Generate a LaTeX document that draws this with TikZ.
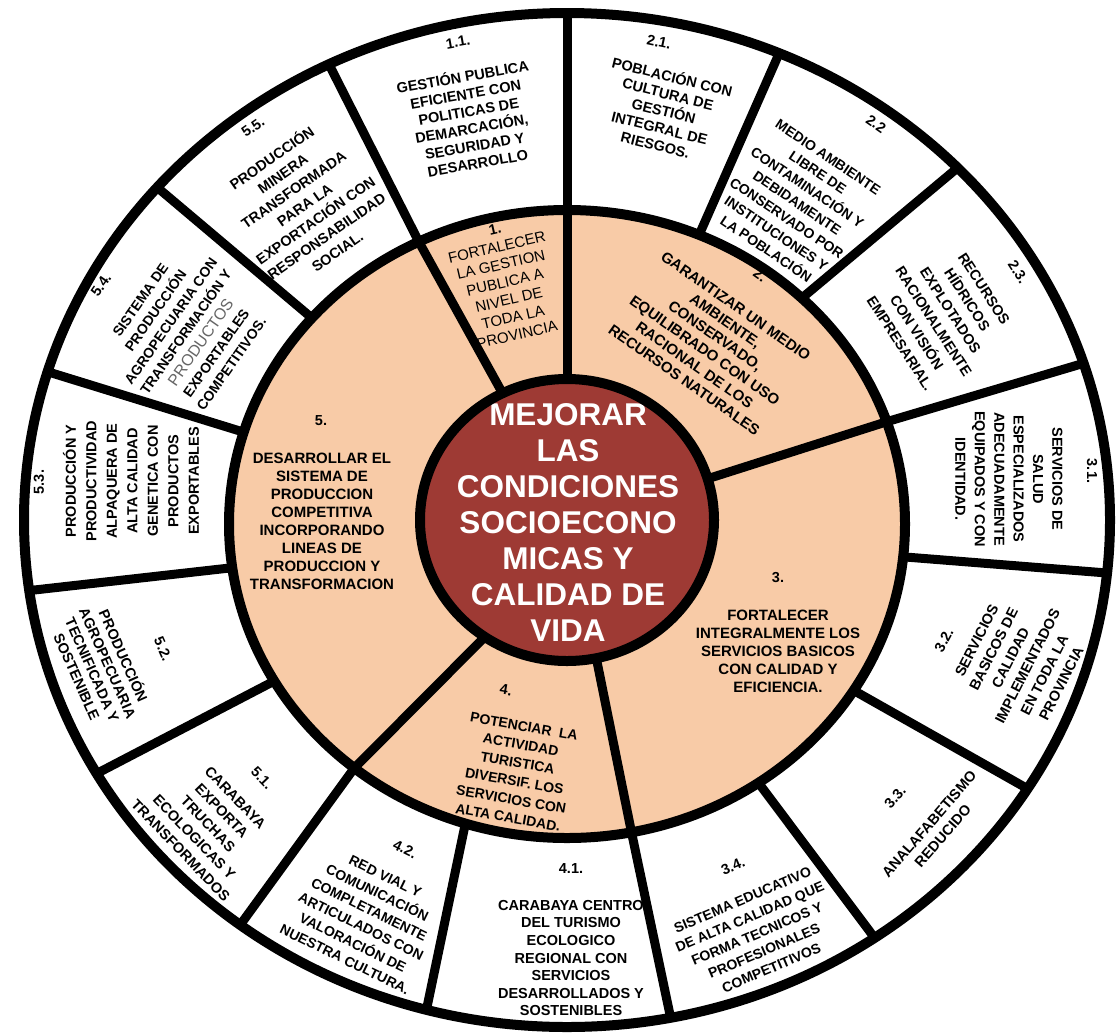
\documentclass[tikz,border=0pt]{standalone}
\usepackage{fontspec}
\setmainfont{Liberation Sans}
\definecolor{durazno}{RGB}{248,203,167}
\definecolor{granate}{RGB}{158,58,52}
\tikzset{
  anillo/.style={line width=10pt},
  rayo/.style={line width=9pt},
  sub/.style={font=\fontsize{14.5}{#1}\selectfont\bfseries, align=center, inner sep=0pt},
  sub/.default=18,
  num/.style={font=\fontsize{14.5}{18}\selectfont\bfseries, inner sep=0pt},
  eje/.style={font=\fontsize{15}{#1}\selectfont\bfseries, align=center, inner sep=0pt},
  eje/.default=18,
}

\begin{document}
\begin{tikzpicture}[x=1pt, y=-1pt]
\useasboundingbox (0,0) rectangle (1118,1034);
\fill[white] (0,0) rectangle (1118,1034);
\coordinate (C) at (567,520);
\coordinate (M) at (567,524);

% fondos
\fill[durazno] (M) ellipse [x radius=338pt, y radius=314pt];
\fill[granate] (C) ellipse [x radius=147pt, y radius=141pt];

% resultados (anillo exterior)
\node[num, rotate=10] (n11) at (458,42) {1.1.};
\node[sub=17.5, rotate=10] (r11) at (470,119) {GESTIÓN PUBLICA\\EFICIENTE CON\\POLITICAS DE\\DEMARCACIÓN,\\SEGURIDAD Y\\DESARROLLO};
\node[num, rotate=-12] (n21) at (659,42) {2.1.};
\node[sub=17.5, rotate=-14] (r21) at (664,110) {POBLACIÓN CON\\CULTURA DE\\GESTIÓN\\INTEGRAL DE\\RIESGOS.};
\node[num, rotate=-35] (n22) at (876,124) {2.2};
\node[sub=18.5, font=\fontsize{14}{18.5}\selectfont\bfseries, rotate=-34] (r22) at (797,203) {MEDIO AMBIENTE\\LIBRE DE\\CONTAMINACIÓN Y\\DEBIDAMENTE\\CONSERVADO POR\\INSTITUCIONES Y\\LA POBLACIÓN};
\node[num, rotate=-57] (n23) at (1018,272) {2.3.};
\node[sub=20, rotate=-57] (r23) at (942,316) {RECURSOS\\HÍDRICOS\\EXPLOTADOS\\RACIONALMENTE\\CON VISIÓN\\EMPRESARIAL.};
\node[num, rotate=-90] (n31) at (1092,471) {3.1.};
\node[sub=19.4, rotate=-90] (r31) at (1009,479) {SERVICIOS DE\\SALUD\\ESPECIALIZADOS\\ADECUADAMENTE\\EQUIPADOS Y CON\\IDENTIDAD.};
\node[num, rotate=62] (n32) at (944,640) {3.2.};
\node[sub=19, rotate=63] (r32) at (1019,662) {SERVICIOS\\BASICOS DE\\CALIDAD\\IMPLEMENTADOS\\EN TODA LA\\PROVINCIA};
\node[num, rotate=49] (n33) at (895,797) {3.3.};
\node[sub, rotate=49] (r33) at (936,830) {ANALAFABETISMO\\REDUCIDO};
\node[num, rotate=23] (n34) at (733,866) {3.4.};
\node[sub=18.5, font=\fontsize{14}{18.5}\selectfont\bfseries, rotate=23] (r34) at (757,934) {SISTEMA EDUCATIVO\\DE ALTA CALIDAD QUE\\FORMA TECNICOS Y\\PROFESIONALES\\COMPETITIVOS};
\node[num] (n41) at (571,868) {4.1.};
\node[sub=17.6] (r41) at (571,958) {CARABAYA CENTRO\\DEL TURISMO\\ECOLOGICO\\REGIONAL CON\\SERVICIOS\\DESARROLLADOS Y\\SOSTENIBLES};
\node[num, rotate=-26] (n42) at (405,849) {4.2.};
\node[sub=18.5, font=\fontsize{14}{18.5}\selectfont\bfseries, rotate=-26] (r42) at (365,918) {RED VIAL Y\\COMUNICACIÓN\\COMPLETAMENTE\\ARTICULADOS CON\\VALORACIÓN DE\\NUESTRA CULTURA.};
\node[num, rotate=-46] (n51) at (262,778) {5.1.};
\node[sub=19, rotate=-46] (r51) at (208,824) {CARABAYA\\EXPORTA\\TRUCHAS\\ECOLOGICAS Y\\TRANSFORMADOS};
\node[num, rotate=-66] (n52) at (163,649) {5.2.};
\node[sub=17, rotate=-66] (r52) at (101,666) {PRODUCCIÓN\\AGROPECUARIA\\TECNIFICADA Y\\SOSTENIBLE};
\node[num, rotate=90] (n53) at (39,482) {5.3.};
\node[sub=20.5, rotate=90] (r53) at (131,481) {PRODUCCIÓN Y\\PRODUCTIVIDAD\\ALPAQUERA DE\\ALTA CALIDAD\\GENETICA CON\\PRODUCTOS\\EXPORTABLES};
\node[num, rotate=55] (n54) at (101,285) {5.4.};
\node[sub=18.5, font=\fontsize{14}{18.5}\selectfont\bfseries, rotate=55] (r54) at (186,332) {SISTEMA DE\\PRODUCCIÓN\\AGROPECUARIA CON\\TRANSFORMACIÓN Y\\{\fontsize{16}{18.5}\selectfont\mdseries\color{black!60}PRODUCTOS}\\EXPORTABLES\\COMPETITIVOS.};
\node[num, rotate=35] (n55) at (253,127) {5.5.};
\node[sub=19, rotate=35] (r55) at (304,204) {PRODUCCIÓN\\MINERA\\TRANSFORMADA\\PARA LA\\EXPORTACIÓN CON\\RESPONSABILIDAD\\SOCIAL.};

% ejes (anillo medio)
\node[num, rotate=13] (n1) at (495,229) {1.};
\node[font=\fontsize{15}{18}\selectfont, align=center, inner sep=0pt, rotate=13] (e1) at (507,291) {FORTALECER\\LA GESTION\\PUBLICA A\\NIVEL DE\\TODA LA\\PROVINCIA};
\node[num, rotate=-35] (n2) at (760,275) {2.};
\node[eje, rotate=-35] (e2) at (710,343) {GARANTIZAR UN MEDIO\\AMBIENTE,\\CONSERVADO,\\EQUILIBRADO CON USO\\RACIONAL DE LOS\\RECURSOS NATURALES};
\node[num] (n3) at (778,578) {3.};
\node[eje] (e3) at (778,651) {FORTALECER\\INTEGRALMENTE LOS\\SERVICIOS BASICOS\\CON CALIDAD Y\\EFICIENCIA.};
\node[num, rotate=-10] (n4) at (506,690) {4.};
\node[eje, font=\fontsize{14}{18.5}\selectfont\bfseries, rotate=-10] (e4) at (516,772) {POTENCIAR\ \ LA\\ACTIVIDAD\\TURISTICA\\DIVERSIF. LOS\\SERVICIOS CON\\ALTA CALIDAD.};
\node[num] (n5) at (321,421) {5.};
\node[eje] (e5) at (322,521) {DESARROLLAR EL\\SISTEMA DE\\PRODUCCION\\COMPETITIVA\\INCORPORANDO\\LINEAS DE\\PRODUCCION Y\\TRANSFORMACION};

% objetivo central
\node[font=\fontsize{31.5}{36}\selectfont\bfseries, text=white, align=center, inner sep=0pt] (meta) at (568,522) {MEJORAR\\LAS\\CONDICIONES\\SOCIOECONO\\MICAS Y\\CALIDAD DE\\VIDA};

% bordes y divisiones
\draw[anillo] (C) ellipse [x radius=543pt, y radius=507pt];
\draw[anillo] (M) ellipse [x radius=338pt, y radius=314pt];
\draw[anillo] (C) ellipse [x radius=147pt, y radius=141pt];
\foreach \a/\b in {116/116,90/90,67/67,46/44,19/18,-6/-6,-32/-32,-55.5/-55.5,-79/-79,-107.5/-105,-129/-127,-150/-150,-172/-172,163/163,139/139}
  \draw[rayo] ([shift={(M)}]\a:338pt and 314pt) -- ([shift={(C)}]\b:543pt and 507pt);
\foreach \a/\b in {116/116,90/90,17/19,-78.5/-79,-124/-129}
  \draw[rayo] ([shift={(C)}]\a:147pt and 141pt) -- ([shift={(M)}]\b:338pt and 314pt);
\end{tikzpicture}
\end{document}
